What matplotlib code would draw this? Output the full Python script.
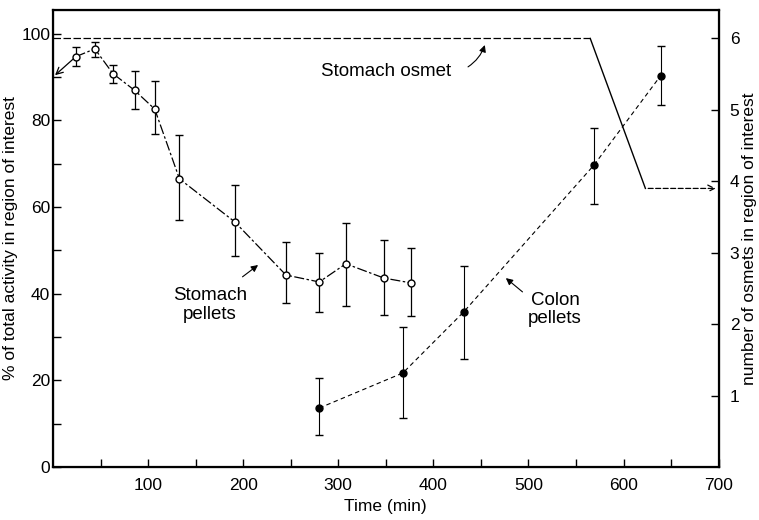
import numpy as np
import matplotlib.pyplot as plt

# stomach pellets (open circles), % of total activity
stomach_t = [24, 44, 63, 86, 107, 133, 191, 245, 280, 308, 348, 376]
stomach_pct = [94.7, 96.5, 90.8, 86.9, 82.6, 66.5, 56.6, 44.3, 42.7, 46.9, 43.6, 42.5]
stomach_hi = [97.0, 98.0, 92.8, 91.4, 89.0, 76.7, 65.1, 52.0, 49.4, 56.4, 52.4, 50.6]
stomach_lo = [92.6, 94.7, 88.7, 82.7, 76.9, 57.0, 48.7, 37.9, 35.8, 37.2, 35.1, 34.9]

# colon pellets (filled circles)
colon_t = [280, 368, 432, 569, 639]
colon_pct = [13.6, 21.7, 35.8, 69.7, 90.3]
colon_hi = [20.5, 32.3, 46.4, 78.3, 97.2]
colon_lo = [7.4, 11.3, 24.9, 60.7, 83.6]

# stomach osmet count (right axis)
osmet_t = [0, 565, 623]
osmet_n = [6, 6, 3.9]

plt.rcParams['font.family'] = ['Liberation Sans', 'DejaVu Sans']
plt.rcParams['font.size'] = 12

fig = plt.figure(figsize=(7.59, 5.20), dpi=100)
ax = fig.add_axes([0.0698, 0.102, 0.877, 0.879])

s_err = [np.array(stomach_pct) - np.array(stomach_lo), np.array(stomach_hi) - np.array(stomach_pct)]
c_err = [np.array(colon_pct) - np.array(colon_lo), np.array(colon_hi) - np.array(colon_pct)]

ax.errorbar(stomach_t, stomach_pct, yerr=s_err, fmt='o', mfc='white', mec='black', ms=5,
            ecolor='black', elinewidth=0.9, capsize=3, color='black', zorder=3)
ax.plot(stomach_t, stomach_pct, color='black', lw=0.9, ls=(0, (8, 2, 2, 2)), zorder=2)
ax.errorbar(colon_t, colon_pct, yerr=c_err, fmt='o', mfc='black', mec='black', ms=5,
            ecolor='black', elinewidth=0.8, capsize=3, color='black', zorder=3)
ax.plot(colon_t, colon_pct, color='black', lw=0.8, ls=(0, (4, 3)), zorder=2)

# arrow from first stomach point to the axis
ax.annotate('', xy=(0, 90), xytext=(stomach_t[0], stomach_pct[0]),
            arrowprops=dict(arrowstyle='->', color='black', lw=0.9))

ax.set_xlim(0, 700)
ax.set_ylim(0, 105.5)
ax.set_xticks([100, 200, 300, 400, 500, 600, 700])
ax.set_xticks(np.arange(50, 700, 100), minor=True)
ax.set_yticks([0, 20, 40, 60, 80, 100])
ax.set_yticks([10, 30, 50, 70, 90], minor=True)
ax.tick_params(direction='in', which='both', length=6, width=1, labelsize=12.5)
ax.tick_params(axis='x', pad=8)
ax.tick_params(axis='y', pad=2)
ax.set_xlabel('Time (min)', fontsize=12.5, labelpad=4)
ax.set_ylabel('% of total activity in region of interest', fontsize=12.5, labelpad=2)
for s in ax.spines.values():
    s.set_linewidth(1.6)

ax2 = ax.twinx()
ax2.set_ylim(0, 6.4)
ax2.set_yticks([1, 2, 3, 4, 5, 6])
ax2.tick_params(direction='in', length=6, width=1, labelsize=12.5, pad=8)
ax2.set_ylabel('number of osmets in region of interest', fontsize=12.5, labelpad=2)
ax2.plot(osmet_t[:2], osmet_n[:2], color='black', lw=0.9, ls=(0, (6, 2)))
ax2.plot(osmet_t[1:], osmet_n[1:], color='black', lw=1.0)
ax2.annotate('', xy=(700, osmet_n[-1]), xytext=(osmet_t[-1], osmet_n[-1]),
             arrowprops=dict(arrowstyle='->', color='black', lw=0.9, ls=(0, (4, 2))))

# labels
ax.text(350, 91.2, 'Stomach osmet', ha='center', va='center', fontsize=13.5)
ax.annotate('', xy=(455, 98), xytext=(434, 92),
            arrowprops=dict(arrowstyle='-|>', color='black', lw=0.8, mutation_scale=10,
                            connectionstyle='arc3,rad=0.2'))
ax.text(165, 37.4, 'Stomach\npellets', ha='center', va='center', linespacing=1.1, fontsize=13.5)
ax.annotate('', xy=(218, 47), xytext=(197, 43.5),
            arrowprops=dict(arrowstyle='-|>', color='black', lw=0.8, mutation_scale=10))
ax.text(528, 36.3, 'Colon\npellets', ha='center', va='center', linespacing=1.1, fontsize=13.5)
ax.annotate('', xy=(474, 44), xytext=(496, 40),
            arrowprops=dict(arrowstyle='-|>', color='black', lw=0.8, mutation_scale=10))

fig.savefig('out.png', dpi=100)
